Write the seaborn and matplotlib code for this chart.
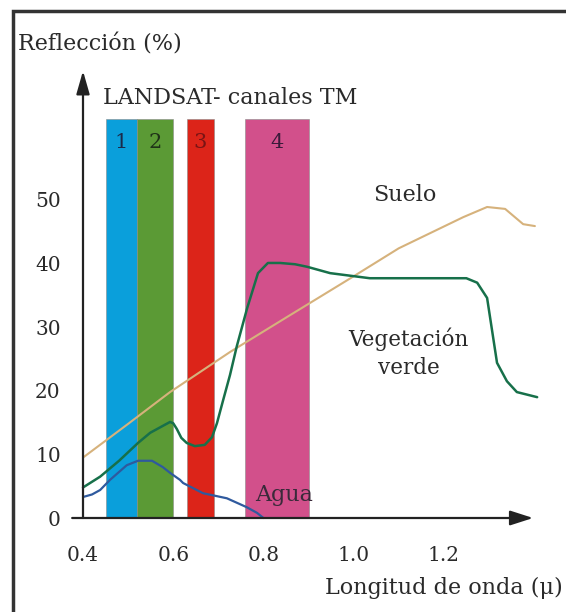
import numpy as np
import pandas as pd
import seaborn as sns
import matplotlib
matplotlib.use("Agg")
import matplotlib.pyplot as plt
from matplotlib.patches import Rectangle

# ---------------- data ----------------
band_names = ["1", "2", "3", "4"]
band_start = [0.45, 0.52, 0.63, 0.76]
band_end = [0.52, 0.60, 0.69, 0.90]
band_top = 62.7
band_colors = ["#0a9fdb", "#5b9a35", "#dc2419", "#d2508b"]
band_text_colors = ["#1b2a4a", "#1f3318", "#7a1414", "#3a1a3a"]

soil_x = [0.40, 0.50, 0.593, 0.726, 0.85, 1.00, 1.10, 1.243, 1.296, 1.336, 1.376, 1.402]
soil_y = [9.5, 14.8, 19.8, 26.1, 31.5, 38.0, 42.4, 47.3, 48.9, 48.6, 46.2, 45.9]

veg_x = [0.40, 0.438, 0.48, 0.522, 0.549, 0.580, 0.593, 0.600, 0.608, 0.618, 0.630, 0.648,
         0.670, 0.686, 0.697, 0.711, 0.726, 0.741, 0.764, 0.788, 0.810, 0.837, 0.870,
         0.897, 0.948, 1.036, 1.15, 1.25, 1.274, 1.296, 1.318, 1.340, 1.362, 1.407]
veg_y = [4.8, 6.5, 9.0, 11.8, 13.4, 14.6, 15.1, 14.9, 14.0, 12.6, 11.8, 11.3,
         11.5, 12.7, 14.9, 18.6, 22.5, 27.0, 33.0, 38.5, 40.1, 40.1, 39.9,
         39.5, 38.5, 37.7, 37.7, 37.7, 37.0, 34.6, 24.4, 21.5, 19.8, 19.0]

water_x = [0.40, 0.42, 0.438, 0.46, 0.497, 0.522, 0.553, 0.577, 0.593, 0.615, 0.622,
           0.666, 0.719, 0.763, 0.786, 0.80]
water_y = [3.3, 3.7, 4.4, 6.0, 8.3, 9.0, 9.0, 8.0, 7.1, 6.0, 5.5,
           3.9, 3.1, 1.7, 0.8, 0.0]

x_ticks = [0.4, 0.6, 0.8, 1.0, 1.2]
x_tick_labels = ["0.4", "0.6", "0.8", "1.0", "1.2"]
y_ticks = [0, 10, 20, 30, 40, 50]
y_tick_labels = ["0", "10", "20", "30", "40", "50"]

# ---------------- figure ----------------
sns.set_style("white")
plt.rcParams["font.family"] = ["DejaVu Serif", "DejaVu Sans"]

W, H = 566, 612
fig = plt.figure(figsize=(W / 100, H / 100), dpi=100)

# pixel mapping: x=0.4 -> 83px, 451 px/unit ; y=0 -> 518px from top, 6.36 px/unit
xlo, xhi = 0.36, 1.43
ylo, yhi = -3.0, 72.0
px_per_x, px_per_y = 451.0, 6.36
left_px = 83 + (xlo - 0.4) * px_per_x
right_px = 83 + (xhi - 0.4) * px_per_x
top_px = 518 - yhi * px_per_y
bot_px = 518 - ylo * px_per_y
ax = fig.add_axes([left_px / W, 1 - bot_px / H, (right_px - left_px) / W, (bot_px - top_px) / H])
ax.set_xlim(xlo, xhi)
ax.set_ylim(ylo, yhi)
ax.patch.set_alpha(0)

# bands
for s, e, c, tc, n in zip(band_start, band_end, band_colors, band_text_colors, band_names):
    ax.bar(s, band_top, width=e - s, align="edge", color=c, edgecolor="#8a8a8a",
           linewidth=0.4, zorder=1)
    ax.text((s + e) / 2, 59.0, n, ha="center", va="center", fontsize=15, color=tc, zorder=5)

# curves
soil = pd.DataFrame({"x": soil_x, "y": soil_y})
veg = pd.DataFrame({"x": veg_x, "y": veg_y})
water = pd.DataFrame({"x": water_x, "y": water_y})
sns.lineplot(data=soil, x="x", y="y", ax=ax, color="#d6b27c", linewidth=1.5, sort=False, zorder=3)
sns.lineplot(data=veg, x="x", y="y", ax=ax, color="#17704a", linewidth=1.8, sort=False, zorder=4)
sns.lineplot(data=water, x="x", y="y", ax=ax, color="#2f5a9e", linewidth=1.6, sort=False, zorder=4)

# axes arrows
for sp in ax.spines.values():
    sp.set_visible(False)
ax.annotate("", xy=(1.398, 0), xytext=(0.376, 0),
            arrowprops=dict(arrowstyle="-|>,head_length=1.4,head_width=0.45",
                            color="#222222", lw=1.6, shrinkA=0, shrinkB=0), zorder=6)
ax.annotate("", xy=(0.4, 70.3), xytext=(0.4, 0),
            arrowprops=dict(arrowstyle="-|>,head_length=1.4,head_width=0.4",
                            color="#222222", lw=1.6, shrinkA=0, shrinkB=0), zorder=6)

# ticks
ax.set_xticks(x_ticks)
ax.set_xticklabels(x_tick_labels)
ax.set_yticks(y_ticks)
ax.set_yticklabels(y_tick_labels)
ax.spines["left"].set_position(("data", 0.4))
ax.spines["bottom"].set_position(("data", 0))
ax.tick_params(axis="both", which="both", direction="out", length=9, width=1.4,
               color="#222222", labelsize=14.5, labelcolor="#2a2a2a", pad=6)
ax.tick_params(axis="x", pad=11)
ax.tick_params(axis="y", pad=7)
ax.set_xlabel("")
ax.set_ylabel("")

# labels
def ftext(xp, yp, s, **kw):
    fig.text(xp / W, 1 - yp / H, s, **kw)

ftext(18, 50, "Reflección (%)", fontsize=16, color="#2a2a2a", ha="left", va="baseline")
ftext(103, 104, "LANDSAT- canales TM", fontsize=16, color="#2a2a2a", ha="left", va="baseline")
ftext(405, 201, "Suelo", fontsize=16, color="#2a2a2a", ha="center", va="baseline")
ftext(408, 346, "Vegetación", fontsize=15.5, color="#2a2a2a", ha="center", va="baseline")
ftext(409, 374, "verde", fontsize=15.5, color="#2a2a2a", ha="center", va="baseline")
ftext(284, 501, "Agua", fontsize=16, color="#3a2a3a", ha="center", va="baseline")
ftext(563, 594, "Longitud de onda (μ)", fontsize=16, color="#2a2a2a", ha="right", va="baseline")

# frame border
fig.patches.append(Rectangle((12.5 / W, -0.05), 1.1, (1 - 10.5 / H) + 0.05,
                             transform=fig.transFigure, fill=False,
                             edgecolor="#333333", linewidth=2.5))

fig.savefig("out.png", dpi=100)
